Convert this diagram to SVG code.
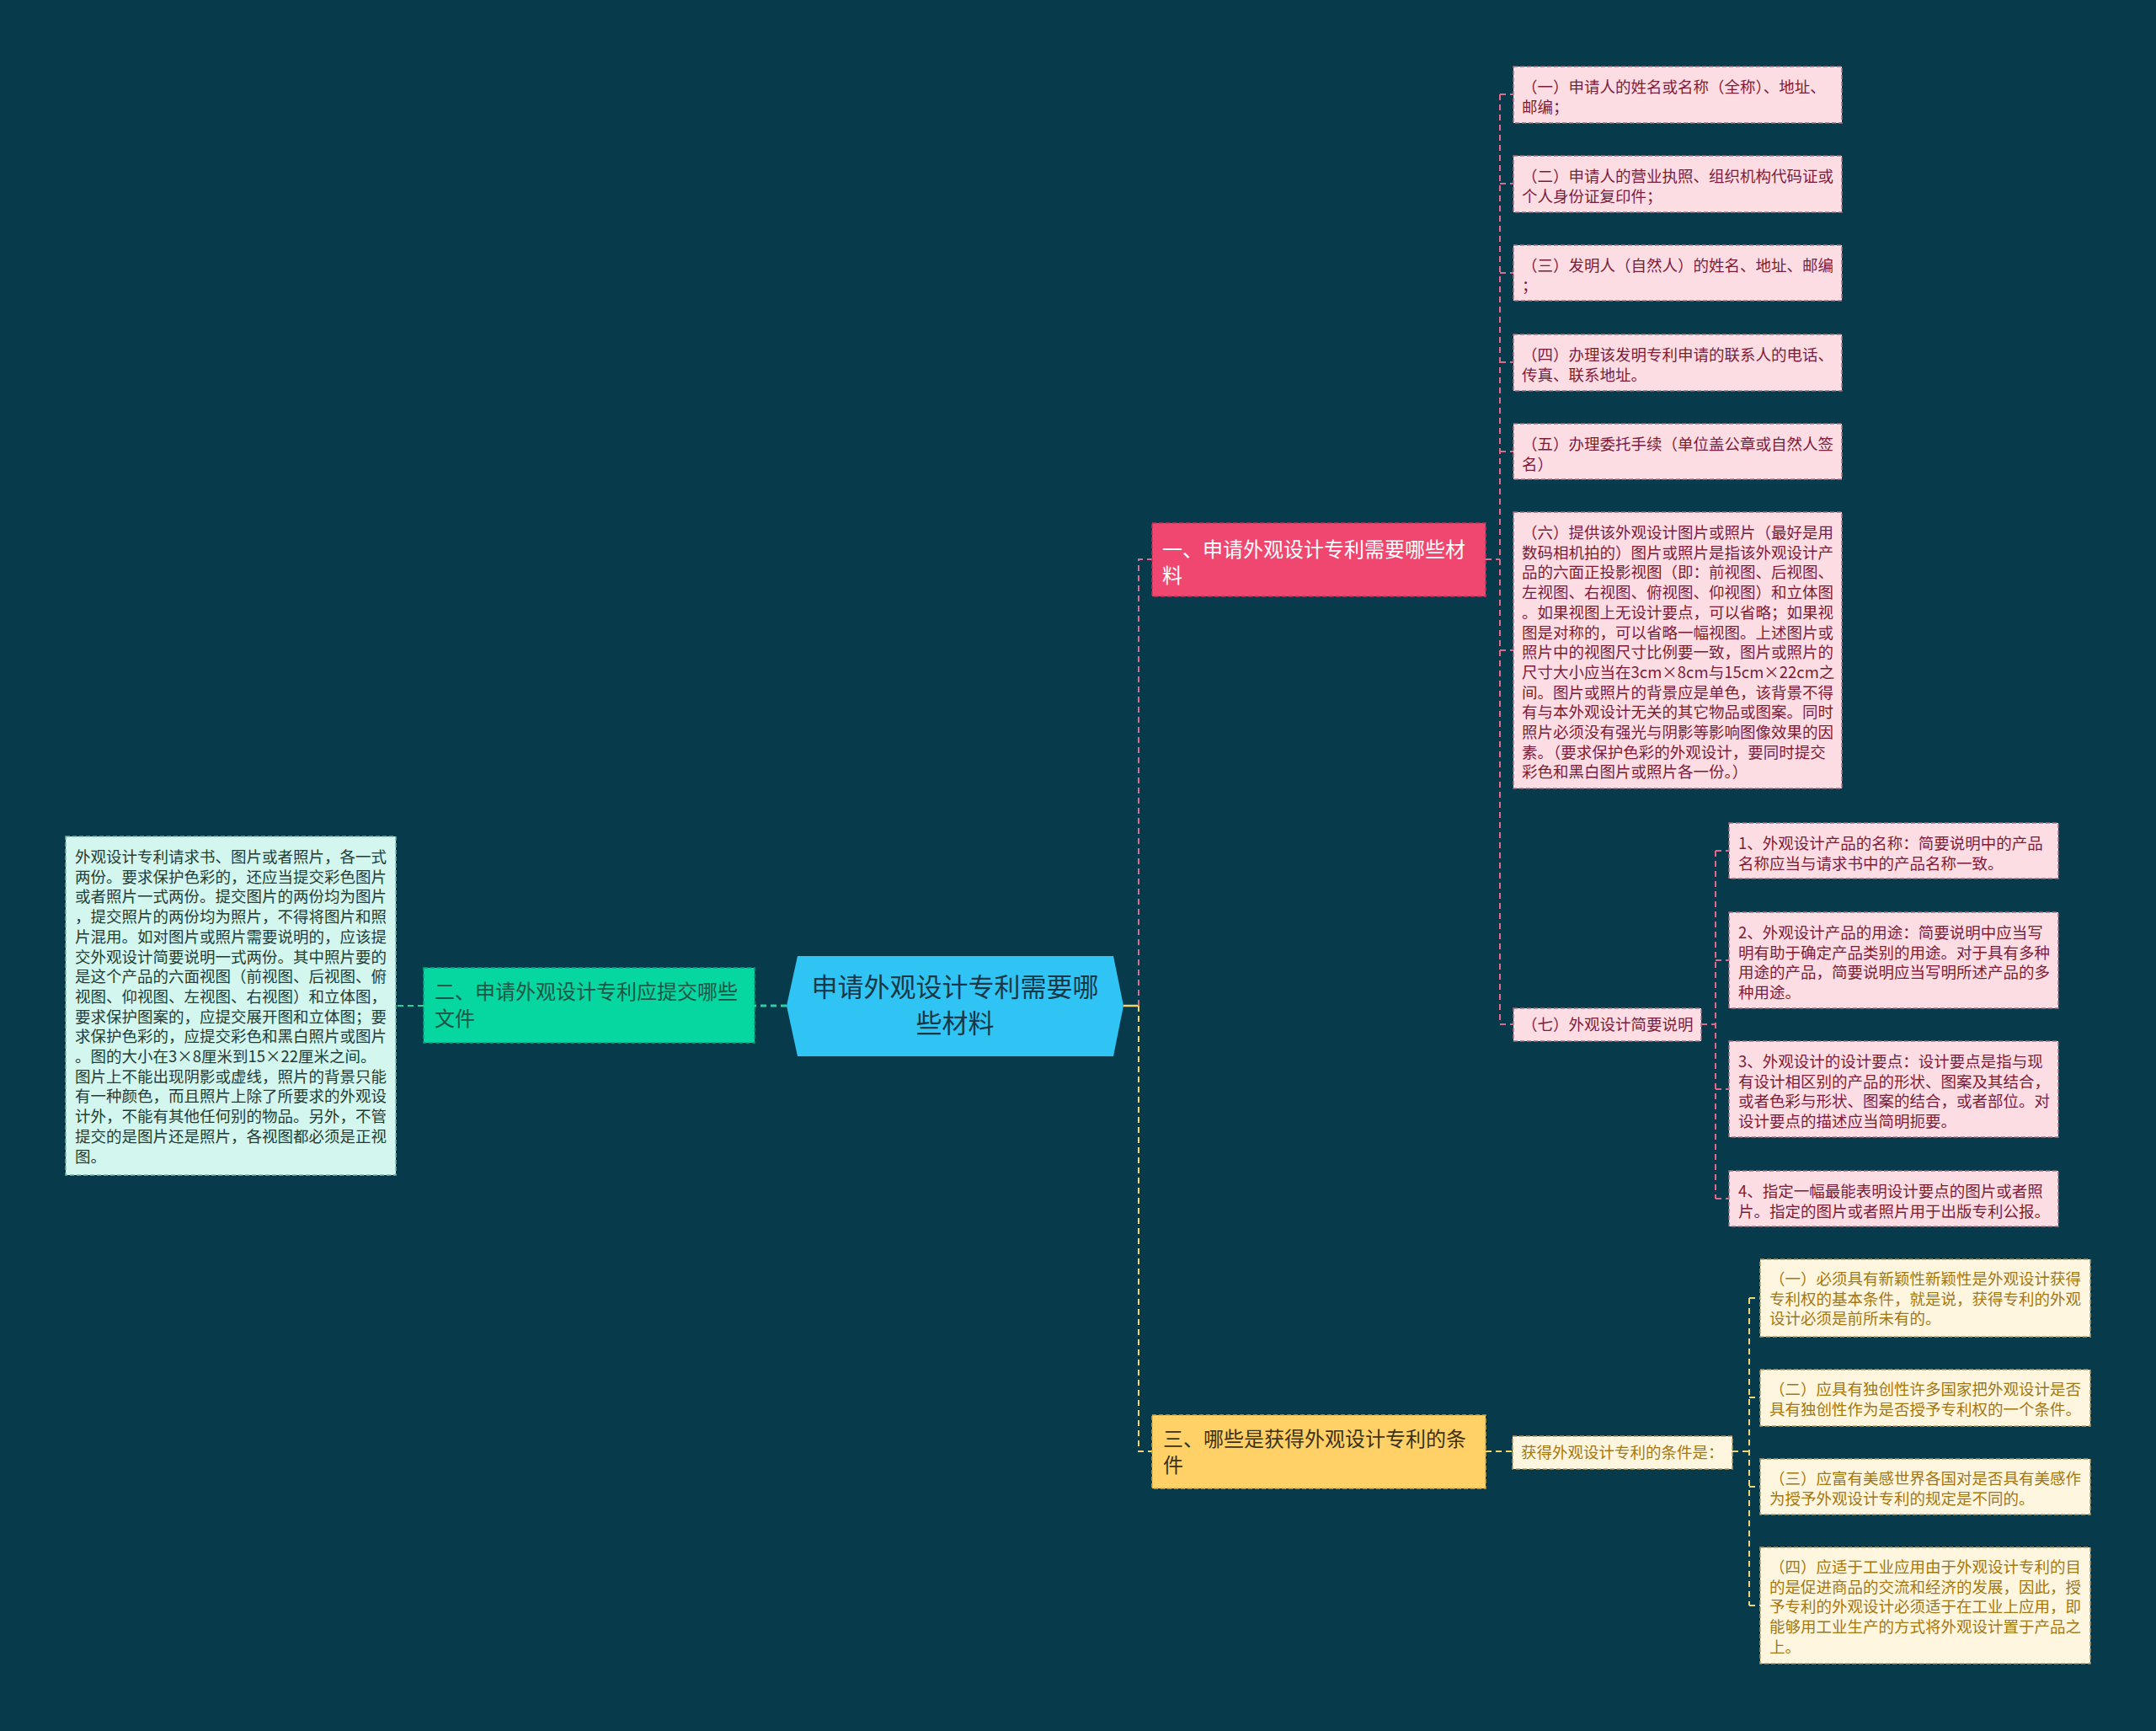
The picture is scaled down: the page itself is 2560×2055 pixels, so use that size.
<svg xmlns="http://www.w3.org/2000/svg" width="2560" height="2055" viewBox="0 0 2560 2055">
<style>
text { font-family: "Noto Sans CJK SC", "Noto Sans", sans-serif; }
.bg { fill: #073b4c; }
.cp { fill: none; stroke: #e06a8c; stroke-width: 2; stroke-dasharray: 7 5; }
.cy { fill: none; stroke: #f3d36e; stroke-width: 2; stroke-dasharray: 7 5; }
.cg { fill: none; stroke: #2ccf9f; stroke-width: 2; stroke-dasharray: 7 5; }
.lp rect { fill: #fcdde4; stroke: #a07080; stroke-width: 1.5; stroke-dasharray: 5 3; }
.lp text { fill: #7b1c38; font-size: 18.5px; }
.lc rect { fill: #fef6de; stroke: #b09a66; stroke-width: 1.5; stroke-dasharray: 5 3; }
.lc text { fill: #a27814; font-size: 18.5px; }
.lg rect { fill: #d3f6ee; stroke: #7db3a6; stroke-width: 1.5; stroke-dasharray: 5 3; }
.lg text { fill: #223c38; font-size: 18.5px; }
.big text { font-size: 24px; }
</style>
<rect class="bg" x="0" y="0" width="2560" height="2055"/>

<g id="connectors">
  <path d="M1334 1194 H1352" fill="none" stroke="#f3d36e" stroke-width="2.5"/>
  <path class="cp" d="M1352 1194 V664 H1368"/>
  <path class="cy" d="M1352 1194 V1723 H1368"/>
  <path class="cg" d="M934 1194 H896" style="stroke-width:3"/>
  <path class="cg" d="M503 1194 H470"/>
  <path class="cp" d="M1764 664 H1781"/>
  <path class="cp" d="M1781 112 V1216"/>
  <path class="cp" d="M1781 112 H1797 M1781 218 H1797 M1781 324 H1797 M1781 430 H1797 M1781 536 H1797 M1781 772 H1797 M1781 1216 H1797"/>
  <path class="cp" d="M2020 1216 H2037 M2037 1010 V1423 M2037 1010 H2053 M2037 1140 H2053 M2037 1293 H2053 M2037 1423 H2053"/>
  <path class="cy" d="M1764 1723 H1796"/>
  <path class="cy" d="M2057 1723 H2077 M2077 1541 V1906 M2077 1541 H2090 M2077 1659 H2090 M2077 1765 H2090 M2077 1906 H2090"/>
</g>

<g id="center">
  <polygon points="934,1194 947,1135 1322,1135 1334,1194 1322,1254 947,1254" fill="#30c4f4"/>
  <text x="1134" y="1183" font-size="31" fill="#173847" text-anchor="middle">申请外观设计专利需要哪</text>
  <text x="1134" y="1226" font-size="31" fill="#173847" text-anchor="middle">些材料</text>
</g>

<g id="node-1" class="big">
  <rect x="1368" y="621" width="396" height="87" fill="#ef476f" stroke="#c23258" stroke-width="1.5" stroke-dasharray="5 3"/>
  <text x="1380" y="661" fill="#ffffff">一、申请外观设计专利需要哪些材</text>
  <text x="1380" y="692" fill="#ffffff">料</text>
</g>

<g id="node-2" class="big">
  <rect x="503" y="1149" width="393" height="89" fill="#06d6a0" stroke="#05a57c" stroke-width="1.5" stroke-dasharray="5 3"/>
  <text x="516" y="1186" fill="#1d5546">二、申请外观设计专利应提交哪些</text>
  <text x="516" y="1218" fill="#1d5546">文件</text>
</g>

<g id="node-3" class="big">
  <rect x="1368" y="1680" width="396" height="87" fill="#ffd166" stroke="#d6aa3c" stroke-width="1.5" stroke-dasharray="5 3"/>
  <text x="1381" y="1717" fill="#3b3217">三、哪些是获得外观设计专利的条</text>
  <text x="1381" y="1748" fill="#3b3217">件</text>
</g>

<g id="leaf-2-1" class="lg">
  <rect x="78" y="993" width="392" height="402"/>
  <text x="89" y="1024">外观设计专利请求书、图片或者照片，各一式</text>
  <text x="89" y="1047.7">两份。要求保护色彩的，还应当提交彩色图片</text>
  <text x="89" y="1071.4">或者照片一式两份。提交图片的两份均为图片</text>
  <text x="89" y="1095.1">，提交照片的两份均为照片，不得将图片和照</text>
  <text x="89" y="1118.8">片混用。如对图片或照片需要说明的，应该提</text>
  <text x="89" y="1142.5">交外观设计简要说明一式两份。其中照片要的</text>
  <text x="89" y="1166.2">是这个产品的六面视图（前视图、后视图、俯</text>
  <text x="89" y="1189.9">视图、仰视图、左视图、右视图）和立体图，</text>
  <text x="89" y="1213.6">要求保护图案的，应提交展开图和立体图；要</text>
  <text x="89" y="1237.3">求保护色彩的，应提交彩色和黑白照片或图片</text>
  <text x="89" y="1261">。图的大小在3×8厘米到15×22厘米之间。</text>
  <text x="89" y="1284.7">图片上不能出现阴影或虚线，照片的背景只能</text>
  <text x="89" y="1308.4">有一种颜色，而且照片上除了所要求的外观设</text>
  <text x="89" y="1332.1">计外，不能有其他任何别的物品。另外，不管</text>
  <text x="89" y="1355.8">提交的是图片还是照片，各视图都必须是正视</text>
  <text x="89" y="1379.5">图。</text>
</g>

<g id="leaf-1-1" class="lp">
  <rect x="1797" y="79" width="390" height="67"/>
  <text x="1807" y="110">（一）申请人的姓名或名称（全称）、地址、</text>
  <text x="1807" y="133.7">邮编；</text>
</g>
<g id="leaf-1-2" class="lp">
  <rect x="1797" y="185" width="390" height="67"/>
  <text x="1807" y="216">（二）申请人的营业执照、组织机构代码证或</text>
  <text x="1807" y="239.7">个人身份证复印件；</text>
</g>
<g id="leaf-1-3" class="lp">
  <rect x="1797" y="291" width="390" height="66"/>
  <text x="1807" y="322">（三）发明人（自然人）的姓名、地址、邮编</text>
  <text x="1807" y="345.7">；</text>
</g>
<g id="leaf-1-4" class="lp">
  <rect x="1797" y="397" width="390" height="67"/>
  <text x="1807" y="428">（四）办理该发明专利申请的联系人的电话、</text>
  <text x="1807" y="451.7">传真、联系地址。</text>
</g>
<g id="leaf-1-5" class="lp">
  <rect x="1797" y="503" width="390" height="66"/>
  <text x="1807" y="534">（五）办理委托手续（单位盖公章或自然人签</text>
  <text x="1807" y="557.7">名）</text>
</g>
<g id="leaf-1-6" class="lp">
  <rect x="1797" y="608" width="390" height="328"/>
  <text x="1807" y="639">（六）提供该外观设计图片或照片（最好是用</text>
  <text x="1807" y="662.7">数码相机拍的）图片或照片是指该外观设计产</text>
  <text x="1807" y="686.4">品的六面正投影视图（即：前视图、后视图、</text>
  <text x="1807" y="710.1">左视图、右视图、俯视图、仰视图）和立体图</text>
  <text x="1807" y="733.8">。如果视图上无设计要点，可以省略；如果视</text>
  <text x="1807" y="757.5">图是对称的，可以省略一幅视图。上述图片或</text>
  <text x="1807" y="781.2">照片中的视图尺寸比例要一致，图片或照片的</text>
  <text x="1807" y="804.9">尺寸大小应当在3cm×8cm与15cm×22cm之</text>
  <text x="1807" y="828.6">间。图片或照片的背景应是单色，该背景不得</text>
  <text x="1807" y="852.3">有与本外观设计无关的其它物品或图案。同时</text>
  <text x="1807" y="876">照片必须没有强光与阴影等影响图像效果的因</text>
  <text x="1807" y="899.7">素。（要求保护色彩的外观设计，要同时提交</text>
  <text x="1807" y="923.4">彩色和黑白图片或照片各一份。）</text>
</g>
<g id="leaf-1-7" class="lp">
  <rect x="1797" y="1197" width="223" height="39"/>
  <text x="1807" y="1223">（七）外观设计简要说明</text>
</g>

<g id="leaf-1-7-1" class="lp">
  <rect x="2053" y="977" width="391" height="66"/>
  <text x="2064" y="1008">1、外观设计产品的名称：简要说明中的产品</text>
  <text x="2064" y="1031.7">名称应当与请求书中的产品名称一致。</text>
</g>
<g id="leaf-1-7-2" class="lp">
  <rect x="2053" y="1083" width="391" height="114"/>
  <text x="2064" y="1114">2、外观设计产品的用途：简要说明中应当写</text>
  <text x="2064" y="1137.7">明有助于确定产品类别的用途。对于具有多种</text>
  <text x="2064" y="1161.4">用途的产品，简要说明应当写明所述产品的多</text>
  <text x="2064" y="1185.1">种用途。</text>
</g>
<g id="leaf-1-7-3" class="lp">
  <rect x="2053" y="1236" width="391" height="114"/>
  <text x="2064" y="1267">3、外观设计的设计要点：设计要点是指与现</text>
  <text x="2064" y="1290.7">有设计相区别的产品的形状、图案及其结合，</text>
  <text x="2064" y="1314.4">或者色彩与形状、图案的结合，或者部位。对</text>
  <text x="2064" y="1338.1">设计要点的描述应当简明扼要。</text>
</g>
<g id="leaf-1-7-4" class="lp">
  <rect x="2053" y="1390" width="391" height="66"/>
  <text x="2064" y="1421">4、指定一幅最能表明设计要点的图片或者照</text>
  <text x="2064" y="1444.7">片。指定的图片或者照片用于出版专利公报。</text>
</g>

<g id="leaf-3-0" class="lc">
  <rect x="1796" y="1705" width="261" height="39"/>
  <text x="1806" y="1731">获得外观设计专利的条件是：</text>
</g>

<g id="leaf-3-1" class="lc">
  <rect x="2090" y="1495" width="392" height="92"/>
  <text x="2101" y="1525">（一）必须具有新颖性新颖性是外观设计获得</text>
  <text x="2101" y="1548.7">专利权的基本条件，就是说，获得专利的外观</text>
  <text x="2101" y="1572.4">设计必须是前所未有的。</text>
</g>
<g id="leaf-3-2" class="lc">
  <rect x="2090" y="1626" width="392" height="67"/>
  <text x="2101" y="1656">（二）应具有独创性许多国家把外观设计是否</text>
  <text x="2101" y="1679.7">具有独创性作为是否授予专利权的一个条件。</text>
</g>
<g id="leaf-3-3" class="lc">
  <rect x="2090" y="1732" width="392" height="66"/>
  <text x="2101" y="1762">（三）应富有美感世界各国对是否具有美感作</text>
  <text x="2101" y="1785.7">为授予外观设计专利的规定是不同的。</text>
</g>
<g id="leaf-3-4" class="lc">
  <rect x="2090" y="1837" width="392" height="138"/>
  <text x="2101" y="1867">（四）应适于工业应用由于外观设计专利的目</text>
  <text x="2101" y="1890.7">的是促进商品的交流和经济的发展，因此，授</text>
  <text x="2101" y="1914.4">予专利的外观设计必须适于在工业上应用，即</text>
  <text x="2101" y="1938.1">能够用工业生产的方式将外观设计置于产品之</text>
  <text x="2101" y="1961.8">上。</text>
</g>
</svg>
